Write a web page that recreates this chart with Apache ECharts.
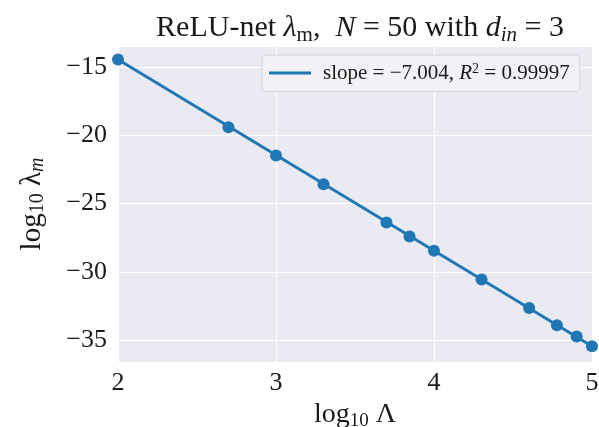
<!DOCTYPE html>
<html><head><meta charset="utf-8">
<script src="https://cdn.jsdelivr.net/npm/echarts@6/dist/echarts.min.js"></script>
<style>html,body{margin:0;padding:0;background:#fff}#c{width:599px;height:427px}</style>
</head><body><div id="c"></div>
<script>
const xValues = [2.0, 2.699, 3.0, 3.301, 3.699, 3.845, 4.0, 4.301, 4.602, 4.778, 4.903, 5.0];
const yValues = [-14.45, -19.41, -21.49, -23.58, -26.39, -27.41, -28.46, -30.56, -32.65, -33.92, -34.75, -35.46];
const fitX = [2.0, 5.0];
const fitY = [-14.45, -35.46];
const xTicks = [2, 3, 4, 5];
const yTicks = [-35, -30, -25, -20, -15];
const legendText = ['slope = \u22127.004, ', 'R', '2', ' = 0.99997'];

const FONT = 'Liberation Serif';
const TXT = '#1a1a1a';
const blue = '#1f77b4';
const chart = echarts.init(document.getElementById('c'), null, {renderer: 'canvas'});
const fmt = v => (v < 0 ? '\u2212' + Math.abs(v) : String(v));
const st = (size, lh, extra) => Object.assign({fontFamily: FONT, fontSize: size, color: TXT, fontWeight: 'normal', lineHeight: lh}, extra || {});

chart.setOption({
  animation: false,
  backgroundColor: '#ffffff',
  title: {
    text: '{r|ReLU-net }{i|λ}{sub|m}{r|,  }{i|N}{r| = 50 with }{i|d}{isub|in}{r| = 3}',
    left: 355, textAlign: 'center', top: 5,
    textStyle: {
      fontFamily: FONT, color: TXT, fontWeight: 'normal',
      rich: {
        r: st(30, 36),
        i: st(30, 36, {fontStyle: 'italic'}),
        sub: st(21, 36, {verticalAlign: 'bottom'}),
        isub: st(21, 36, {fontStyle: 'italic', verticalAlign: 'bottom'})
      }
    }
  },
  legend: {
    left: 262, top: 55,
    padding: [7, 10, 8, 7],
    backgroundColor: 'rgba(242,242,247,0.85)',
    borderColor: '#d4d4dc', borderWidth: 1, borderRadius: 4,
    itemWidth: 42, itemHeight: 3, icon: 'rect',
    data: [{name: 'fit', icon: 'rect'}],
    formatter: () => '{a0|' + legendText[0] + '}{i|' + legendText[1] + '}{sup|' + legendText[2] + '}{a|' + legendText[3] + '}',
    textStyle: {
      fontFamily: FONT, color: TXT,
      rich: {
        a0: st(21, 22, {padding: [0, 0, 0, 7]}),
        a: st(21, 22),
        i: st(21, 22, {fontStyle: 'italic'}),
        sup: st(14, 22, {verticalAlign: 'top'})
      }
    }
  },
  grid: {left: 118, right: 7, top: 46, bottom: 65, show: true, backgroundColor: '#eaeaf2', borderWidth: 0, outerBoundsMode: 'none', containLabel: false},
  xAxis: {
    type: 'value', min: 2, max: 5, interval: 1,
    axisLine: {show: false}, axisTick: {show: false},
    splitLine: {show: true, lineStyle: {color: '#ffffff', width: 1.2}},
    axisLabel: {fontFamily: FONT, fontSize: 26, color: TXT, margin: 8, formatter: fmt},
    name: '{r|log}{sub|10}{r| Λ}', nameLocation: 'middle', nameGap: 33,
    nameTextStyle: {
      rich: {
        r: st(28, 32),
        sub: st(19, 32, {verticalAlign: 'bottom'})
      }
    }
  },
  yAxis: {
    type: 'value', min: -36.61, max: -13.46, splitNumber: 5,
    axisLine: {show: false}, axisTick: {show: false},
    splitLine: {show: true, lineStyle: {color: '#ffffff', width: 1.2}},
    axisLabel: {
      fontFamily: FONT, fontSize: 26, color: TXT, margin: 11,
      showMinLabel: false, showMaxLabel: false,
      formatter: v => (yTicks.indexOf(Math.round(v * 100) / 100) >= 0 ? fmt(v) : '')
    },
    name: '{r|log}{sub|10}{r| λ}{isub|m}', nameLocation: 'middle', nameGap: 70, nameRotate: 90,
    nameTextStyle: {
      rich: {
        r: st(29, 32),
        sub: st(20, 32, {verticalAlign: 'bottom'}),
        isub: st(20, 32, {fontStyle: 'italic', verticalAlign: 'bottom'})
      }
    }
  },
  series: [
    {
      name: 'fit', type: 'line', showSymbol: false, symbol: 'none',
      data: fitX.map((x, i) => [x, fitY[i]]),
      lineStyle: {color: blue, width: 2.8}, itemStyle: {color: blue}, z: 2
    },
    {
      name: 'data', type: 'scatter', symbolSize: 12,
      data: xValues.map((x, i) => [x, yValues[i]]),
      itemStyle: {color: blue, opacity: 1}, z: 3
    }
  ]
});
</script></body></html>
